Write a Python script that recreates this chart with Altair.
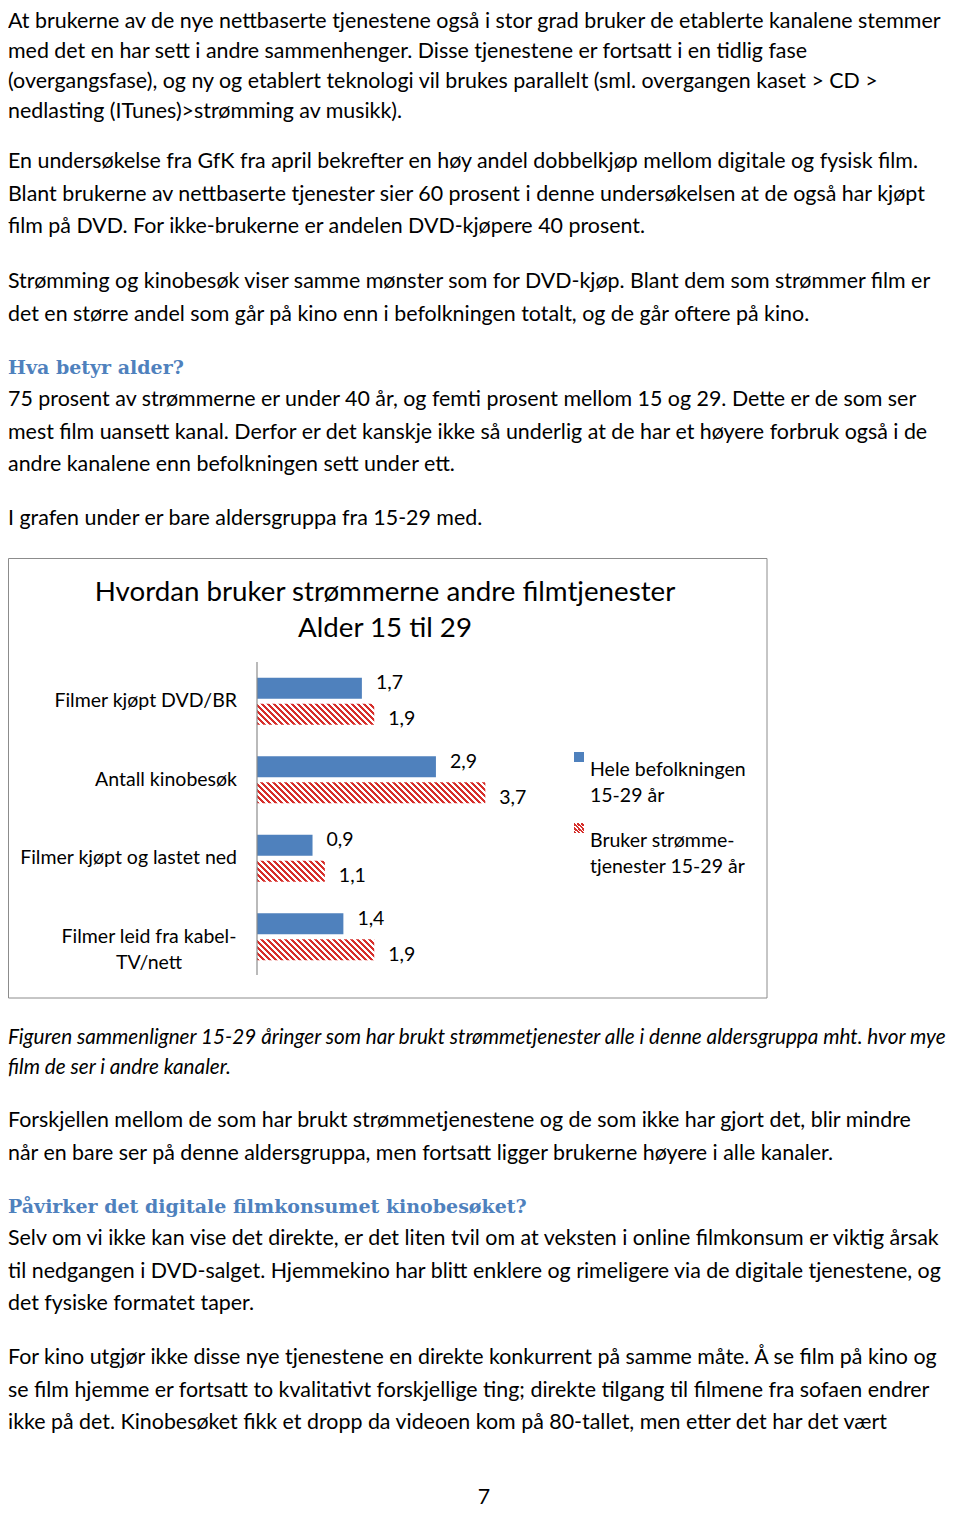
import altair as alt
import pandas as pd

# ---------------- chart data ----------------
categories = ["Filmer kjøpt DVD/BR", "Antall kinobesøk", "Filmer kjøpt og lastet ned",
              "Filmer leid fra kabel-TV/nett"]
category_display = ["Filmer kjøpt DVD/BR", "Antall kinobesøk", "Filmer kjøpt og lastet ned",
                    "Filmer leid fra kabel-\nTV/nett"]
series = ["Hele befolkningen 15-29 år", "Bruker strømmetjenester 15-29 år"]
series_display = ["Hele befolkningen\n15-29 år", "Bruker strømme-\ntjenester 15-29 år"]
values_all = [1.7, 2.9, 0.9, 1.4]
values_stream = [1.9, 3.7, 1.1, 1.9]
chart_title = ["Hvordan bruker strømmerne andre filmtjenester", "Alder 15 til 29"]

# ---------------- page text ----------------
para1 = ["At brukerne av de nye nettbaserte tjenestene også i stor grad bruker de etablerte kanalene stemmer",
         "med det en har sett i andre sammenhenger. Disse tjenestene er fortsatt i en tidlig fase",
         "(overgangsfase), og ny og etablert teknologi vil brukes parallelt (sml. overgangen kaset > CD >",
         "nedlasting (ITunes)>strømming av musikk)."]
para2 = ["En undersøkelse fra GfK fra april bekrefter en høy andel dobbelkjøp mellom digitale og fysisk film.",
         "Blant brukerne av nettbaserte tjenester sier 60 prosent i denne undersøkelsen at de også har kjøpt",
         "film på DVD. For ikke-brukerne er andelen DVD-kjøpere 40 prosent."]
para3 = ["Strømming og kinobesøk viser samme mønster som for DVD-kjøp. Blant dem som strømmer film er",
         "det en større andel som går på kino enn i befolkningen totalt, og de går oftere på kino."]
heading1 = ["Hva betyr alder?"]
para4 = ["75 prosent av strømmerne er under 40 år, og femti prosent mellom 15 og 29. Dette er de som ser",
         "mest film uansett kanal. Derfor er det kanskje ikke så underlig at de har et høyere forbruk også i de",
         "andre kanalene enn befolkningen sett under ett."]
para5 = ["I grafen under er bare aldersgruppa fra 15-29 med."]
caption = ["Figuren sammenligner 15-29 åringer som har brukt strømmetjenester alle i denne aldersgruppa mht. hvor mye",
           "film de ser i andre kanaler."]
para6 = ["Forskjellen mellom de som har brukt strømmetjenestene og de som ikke har gjort det, blir mindre",
         "når en bare ser på denne aldersgruppa, men fortsatt ligger brukerne høyere i alle kanaler."]
heading2 = ["Påvirker det digitale filmkonsumet kinobesøket?"]
para7 = ["Selv om vi ikke kan vise det direkte, er det liten tvil om at veksten i online filmkonsum er viktig årsak",
         "til nedgangen i DVD-salget. Hjemmekino har blitt enklere og rimeligere via de digitale tjenestene, og",
         "det fysiske formatet taper."]
para8 = ["For kino utgjør ikke disse nye tjenestene en direkte konkurrent på samme måte. Å se film på kino og",
         "se film hjemme er fortsatt to kvalitativt forskjellige ting; direkte tilgang til filmene fra sofaen endrer",
         "ikke på det. Kinobesøket fikk et dropp da videoen kom på 80-tallet, men etter det har det vært"]
page_number = ["7"]

# ---------------- layout / style ----------------
W, H = 944, 1505
FONT = "Lato"
SERIF = "DejaVu Serif"
BODY_SIZE = 21.4
CHART_SIZE = 19.5
LINE = 32.7
FIRST_LINE = 30.0   # slightly tighter first paragraph: it starts at the top edge
CAP_LINE = 30
BLUE = "#4F81BD"
RED = "#D62F2B"
HEAD_BLUE = "#4F81BD"

blocks = [  # (style, first line centre y, line spacing, lines)
    ("body", 14, FIRST_LINE, para1),
    ("body", 154, LINE, para2),
    ("body", 274, LINE, para3),
    ("head", 360, LINE, heading1),
    ("body", 392, LINE, para4),
    ("body", 511, LINE, para5),
    ("cap", 1030, CAP_LINE, caption),
    ("body", 1113, LINE, para6),
    ("head", 1199, LINE, heading2),
    ("body", 1231, LINE, para7),
    ("body", 1350, LINE, para8),
]
rows = []
for style, y0, lh, lines in blocks:
    for i, t in enumerate(lines):
        rows.append({"style": style, "text": t, "x": 0, "y": y0 + i * lh})
text_df = pd.DataFrame(rows)


def text_layer(style, **kw):
    return alt.Chart(text_df).transform_filter(alt.datum.style == style).mark_text(
        align="left", baseline="middle", **kw
    ).encode(
        x=alt.X("x:Q", scale=None, axis=None),
        y=alt.Y("y:Q", scale=None, axis=None),
        text="text:N",
    )


body = text_layer("body", font=FONT, fontSize=BODY_SIZE, color="#000000")
heads = text_layer("head", font=SERIF, fontSize=19, fontWeight="bold", color=HEAD_BLUE)
caps = text_layer("cap", font=FONT, fontSize=20.7, fontStyle="italic", color="#000000")

page_no = alt.Chart(pd.DataFrame({"t": page_number})).mark_text(
    font=FONT, fontSize=BODY_SIZE, align="center", baseline="middle", color="#000000"
).encode(x=alt.value(476), y=alt.value(1490), text="t:N")

# ---------------- chart box ----------------
one = pd.DataFrame({"a": [0]})
frame = alt.Chart(one).mark_rect(filled=False, stroke="#8c8c8c", strokeWidth=1).encode(
    x=alt.value(0.5), x2=alt.value(759), y=alt.value(550.5), y2=alt.value(990)
)
title_df = pd.DataFrame({"t": chart_title, "y": [585, 621]})
title = alt.Chart(title_df).mark_text(
    font=FONT, fontSize=27.7, align="center", baseline="middle", color="#000000"
).encode(x=alt.value(377), y=alt.Y("y:Q", scale=None, axis=None), text="t:N")

# scales
X0, X1 = 249, 495.8
PX = (X1 - X0) / 4
Y0, Y1 = 654, 968
PI, PO = 0.19, 0.6
step = (Y1 - Y0) / len(categories)
BAR_H = step / (2 - PI + 2 * PO) * (1 - PI)

xs = alt.Scale(domain=[0, 4], range=[X0, X1])
ys = alt.Scale(domain=categories, range=[Y0, Y1], paddingInner=0, paddingOuter=0)
yos = alt.Scale(domain=series, paddingInner=PI, paddingOuter=PO)

bar_rows = []
for c, d, a, s in zip(categories, category_display, values_all, values_stream):
    bar_rows.append({"category": c, "display": d, "series": series[0], "value": a})
    bar_rows.append({"category": c, "display": d, "series": series[1], "value": s})
bar_df = pd.DataFrame(bar_rows)
bar_df["label"] = bar_df["value"].map(lambda v: f"{v:.1f}".replace(".", ","))

enc = dict(
    x=alt.X("value:Q", scale=xs, axis=None),
    y=alt.Y("category:N", scale=ys, axis=None),
    yOffset=alt.YOffset("series:N", scale=yos),
)


def hatch(w, h, period, color=RED, frac=0.55):
    """Diagonal red/white stripes as a linear gradient in the bar's bounding box."""
    s = (w + h) / (w * w + h * h)
    total = w + h
    stops = []
    k = 0
    while k * period < total:
        a = k * period / total
        b = min(1.0, (k * period + period * frac) / total)
        c = min(1.0, (k + 1) * period / total)
        stops += [{"offset": a, "color": color}, {"offset": b, "color": color},
                  {"offset": b, "color": "#ffffff"}, {"offset": c, "color": "#ffffff"}]
        k += 1
    return {"gradient": "linear", "x1": 0, "y1": 1, "x2": s * w, "y2": 1 - s * h, "stops": stops}


blue_bars = alt.Chart(bar_df).transform_filter(alt.datum.series == series[0]).mark_bar(
    color=BLUE
).encode(**enc)

red_layers = []
for c, v in zip(categories, values_stream):
    red_layers.append(
        alt.Chart(bar_df).transform_filter(
            (alt.datum.series == series[1]) & (alt.datum.category == c)
        ).mark_bar(fill=hatch(v * PX, BAR_H, 6)).encode(**enc)
    )

labels = alt.Chart(bar_df).mark_text(
    font=FONT, fontSize=CHART_SIZE, align="left", baseline="middle", dx=14, color="#000000"
).encode(text="label:N", **enc)

axis_line = alt.Chart(one).mark_rule(color="#8c8c8c", strokeWidth=1.2).encode(
    x=alt.X("a:Q", scale=xs, axis=None), y=alt.value(654), y2=alt.value(967)
)

cat_df = pd.DataFrame({"category": categories, "display": category_display,
                       "multi": [("\n" in d) for d in category_display]})
cat_single = alt.Chart(cat_df).transform_filter(alt.datum.multi == False).mark_text(
    font=FONT, fontSize=CHART_SIZE, align="right", baseline="middle", color="#000000"
).encode(x=alt.value(229), y=alt.Y("category:N", scale=ys, axis=None), text="display:N")
cat_multi = alt.Chart(cat_df).transform_filter(alt.datum.multi == True).mark_text(
    font=FONT, fontSize=CHART_SIZE, align="center", baseline="middle", color="#000000",
    lineBreak="\n", lineHeight=26
).encode(x=alt.value(141), y=alt.Y("category:N", scale=ys, axis=None), text="display:N")

# legend
leg_df = pd.DataFrame({"series": series, "display": series_display, "y": [762, 833]})
leg_text = alt.Chart(leg_df).mark_text(
    font=FONT, fontSize=CHART_SIZE, align="left", baseline="middle", color="#000000",
    lineBreak="\n", lineHeight=26
).encode(x=alt.value(582), y=alt.Y("y:Q", scale=None, axis=None), text="display:N")
leg_blue = alt.Chart(one).mark_rect(color=BLUE).encode(
    x=alt.value(566), x2=alt.value(576), y=alt.value(744), y2=alt.value(754))
leg_red = alt.Chart(one).mark_rect(fill=hatch(10, 10, 4)).encode(
    x=alt.value(566), x2=alt.value(576), y=alt.value(815), y2=alt.value(825))

chart = alt.layer(
    body, heads, caps, page_no, frame, title, blue_bars, *red_layers, labels, axis_line,
    cat_single, cat_multi, leg_text, leg_blue, leg_red
).resolve_scale(x="independent", y="independent", yOffset="independent").properties(
    width=W, height=H, padding=0,
    autosize=alt.AutoSizeParams(type="fit", contains="padding"),
).configure_view(stroke=None)

chart.save("out.html", embed_options={"renderer": "svg", "actions": False})
